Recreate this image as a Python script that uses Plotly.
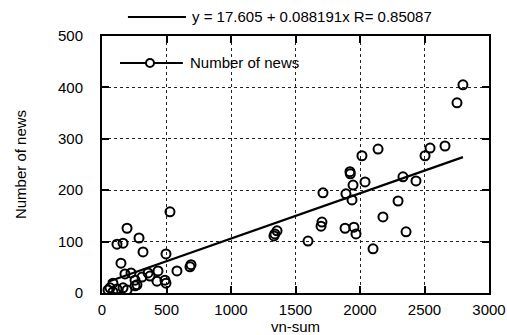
import numpy as np
import plotly.graph_objects as go

# vn-sum vs. number of news
vn_sum = [
    2798, 2752, 2015, 2140, 2504, 2543, 2659, 1922, 1925, 2333, 2434, 2295,
    2178, 2357, 2039, 1946, 1713, 1891, 1938, 1705, 1698, 1884, 1953, 1969,
    1357, 1340, 1333, 1597, 2101,
    527, 194, 287, 116, 163, 318, 496, 147, 581, 682, 690, 178, 225, 310,
    372, 434, 426, 496, 256, 62, 163, 256, 85, 47, 116, 357, 271, 194, 85, 488,
]
news = [
    405, 370, 267, 280, 267, 282, 286, 236, 232, 226, 218, 179,
    148, 119, 216, 210, 195, 193, 181, 138, 130, 126, 128, 115,
    121, 115, 111, 101, 86,
    158, 126, 107, 95, 97, 80, 76, 58, 43, 51, 55, 37, 39, 31,
    33, 43, 23, 19, 25, 10, 10, 14, 19, 6, 8, 39, 16, 6, 2, 25,
]

# Linear fit reported in the header
intercept = 17.605
slope = 0.088191
r_value = 0.85087

x_tick_vals = [0, 500, 1000, 1500, 2000, 2500, 3000]
y_tick_vals = [0, 100, 200, 300, 400, 500]

FONT = "Liberation Sans, Arial, Helvetica, sans-serif"
FS = 15

fit_x = np.array([min(vn_sum), max(vn_sum)])
fit_y = intercept + slope * fit_x

fig = go.Figure()
fig.add_trace(go.Scatter(
    x=vn_sum, y=news, mode="markers", name="Number of news",
    marker=dict(symbol="circle-open", size=9, color="black",
                line=dict(width=2, color="black")),
    showlegend=False,
))
fig.add_trace(go.Scatter(
    x=fit_x, y=fit_y, mode="lines",
    line=dict(color="black", width=2.2), showlegend=False,
))

axis_common = dict(
    showline=True, linecolor="black", linewidth=2, mirror="allticks",
    ticks="inside", ticklen=7, tickwidth=2, tickcolor="black",
    showgrid=True, gridcolor="#222", gridwidth=1, griddash="dot",
    zeroline=False, automargin=False,
    tickfont=dict(family=FONT, size=FS, color="black"),
)

fig.update_xaxes(range=[0, 3000], tickvals=x_tick_vals, ticklabelstandoff=2,
                 title=dict(text="vn-sum", font=dict(family=FONT, size=FS, color="black"),
                            standoff=0),
                 **axis_common)
fig.update_yaxes(range=[0, 500], tickvals=y_tick_vals, ticklabelstandoff=14,
                 title=dict(text="Number of news", font=dict(family=FONT, size=FS, color="black"),
                            standoff=28),
                 **axis_common)

# Header key: fit line sample and equation
fig.add_shape(type="line", xref="paper", yref="paper",
              x0=0.067, x1=0.217, y0=1.074, y1=1.074,
              line=dict(color="black", width=2))
fig.add_annotation(xref="paper", yref="paper", x=0.227, y=1.074,
                   xanchor="left", yanchor="middle", showarrow=False,
                   text=f"y = {intercept} + {slope}x R= {r_value}",
                   font=dict(family=FONT, size=FS, color="black"))

# In-plot key for the scatter series
fig.add_shape(type="line", xref="paper", yref="paper",
              x0=0.0465, x1=0.209, y0=0.895, y1=0.895,
              line=dict(color="black", width=2))
fig.add_shape(type="circle", xref="paper", yref="paper",
              xsizemode="pixel", ysizemode="pixel",
              xanchor=0.124, yanchor=0.895, x0=-4, x1=4, y0=-4, y1=4,
              line=dict(color="black", width=2), fillcolor="white")
fig.add_annotation(xref="paper", yref="paper", x=0.222, y=0.895,
                   xanchor="left", yanchor="middle", showarrow=False,
                   text="Number of news",
                   font=dict(family=FONT, size=FS, color="black"))

fig.update_layout(
    width=507, height=335,
    margin=dict(l=102, r=18, t=36, b=42),
    paper_bgcolor="white", plot_bgcolor="white",
    font=dict(family=FONT, color="black"),
)

fig.write_html("out.html")
